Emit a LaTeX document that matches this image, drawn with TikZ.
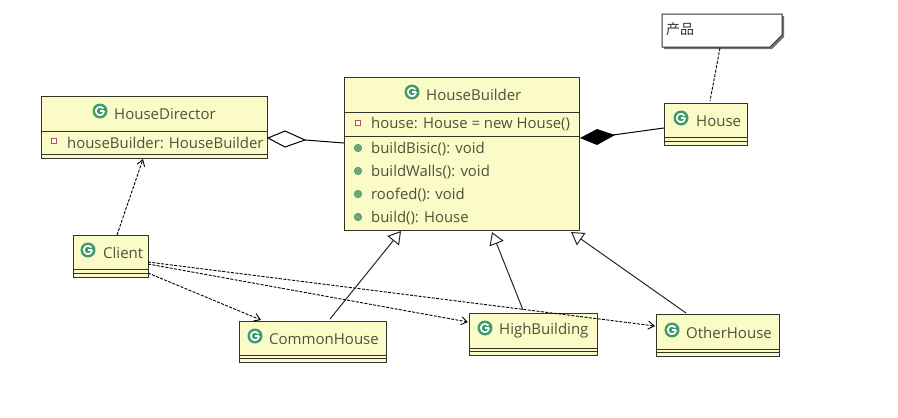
\documentclass[tikz,border=0pt]{standalone}
\usepackage{fontspec}
\setmainfont{Open Sans}
\newfontfamily\cjkfont{Noto Sans CJK SC}
\usetikzlibrary{calc,arrows.meta}
\definecolor{umlfill}{HTML}{FBFBC8}
\definecolor{umlline}{HTML}{33332A}
\definecolor{umltext}{HTML}{50503C}
\definecolor{icongreen}{HTML}{3F9A6E}
\definecolor{pubgreen}{HTML}{6AA878}
\definecolor{privred}{HTML}{C0504D}
\tikzset{
  umlbox/.style={draw=umlline,fill=umlfill,line width=.95pt,anchor=north west,inner sep=0pt,outer sep=0pt},
  sepline/.style={draw=umlline,line width=.95pt},
  umllabel/.style={text=umltext,font=\fontsize{14.9}{16}\selectfont,inner sep=0pt,anchor=west,yshift=-1pt},
  titlelabel/.style={text=umltext,font=\fontsize{15}{16}\selectfont,inner sep=0pt,anchor=west,yshift=-1pt},
  dep/.style={draw=black,line width=.9pt,dash pattern=on 3pt off 1.4pt,-{Straight Barb[length=6pt,width=8pt,line width=.9pt]}},
  gen/.style={draw=black!85,line width=1pt,-{Triangle[open,fill=white,length=12.5pt,width=15pt,line width=1pt]}},
  assoc/.style={draw=black,line width=1pt},
  notelink/.style={draw=black,line width=.9pt,dash pattern=on 3pt off 1.4pt},
}
\newcommand{\gicon}[2]{%
  \fill[icongreen] (#1,#2) circle (7.5pt);
  \draw[white,line width=1.6pt] ($(#1,#2)+(3.5pt,2.45pt)$) arc[start angle=35,end angle=360,radius=4.27pt];
  \draw[white,line width=1.6pt] (#1,#2) -- ++(4.27pt,0pt);
}
\newcommand{\pubicon}[2]{\fill[pubgreen,draw=icongreen,line width=.5pt] (#1,#2) circle (3.8pt);}
\newcommand{\privicon}[2]{\draw[privred,fill=white,line width=1pt] ($(#1,#2)+(-2.5pt,-2.5pt)$) rectangle ($(#1,#2)+(2.5pt,2.5pt)$);}
\begin{document}
\begin{tikzpicture}[x=1pt,y=-1pt]
\useasboundingbox[fill=white] (0,0) rectangle (898,418);

% HouseDirector
\node[umlbox,minimum width=226pt,minimum height=62pt] (hd) at (41,96) {};
\draw[sepline] ($(hd.north west)+(0,35)$) -- ($(hd.north east)+(0,35)$);
\draw[sepline] ($(hd.south west)+(0,-3.5)$) -- ($(hd.south east)+(0,-3.5)$);
\gicon{100}{111}
\node[titlelabel] (hdt) at (114,113) {HouseDirector};
\privicon{54}{141}
\node[umllabel] (hdf) at (67,142) {houseBuilder: HouseBuilder};

% HouseBuilder
\node[umlbox,minimum width=235pt,minimum height=153pt] (hb) at (344,77) {};
\draw[sepline] ($(hb.north west)+(0,35)$) -- ($(hb.north east)+(0,35)$);
\draw[sepline] ($(hb.north west)+(0,59)$) -- ($(hb.north east)+(0,59)$);
\gicon{412}{92}
\node[titlelabel] (hbt) at (426,94) {HouseBuilder};
\privicon{358}{123}
\node[umllabel] (hbf) at (371,123) {house: House = new House()};
\pubicon{358}{148}
\node[umllabel] (hbm1) at (371,148) {buildBisic(): void};
\pubicon{358}{171}
\node[umllabel] (hbm2) at (371,171) {buildWalls(): void};
\pubicon{358}{194}
\node[umllabel] (hbm3) at (371,194) {roofed(): void};
\pubicon{358}{217}
\node[umllabel] (hbm4) at (371,217) {build(): House};

% House
\node[umlbox,minimum width=83pt,minimum height=42pt] (ho) at (664,103) {};
\draw[sepline] ($(ho.south west)+(0,-8)$) -- ($(ho.south east)+(0,-8)$);
\draw[sepline] ($(ho.south west)+(0,-4)$) -- ($(ho.south east)+(0,-4)$);
\gicon{681}{118}
\node[titlelabel] (hot) at (696,120) {House};

% Note
\fill[black!55] (664,16) -- (784,16) -- (784,37) -- (772,49) -- (664,49) -- cycle;
\draw[draw=umlline,fill=white,line width=1pt] (662,14) -- (782,14) -- (782,35) -- (770,47) -- (662,47) -- cycle;
\node[text=black!80,font=\cjkfont\fontsize{14}{16}\selectfont,inner sep=0pt,anchor=west] (nt) at (666,29) {产品};
\coordinate (notebottom) at (720,48);

% Client
\node[umlbox,minimum width=75pt,minimum height=42pt] (cl) at (73,235) {};
\draw[sepline] ($(cl.south west)+(0,-8)$) -- ($(cl.south east)+(0,-8)$);
\draw[sepline] ($(cl.south west)+(0,-4)$) -- ($(cl.south east)+(0,-4)$);
\gicon{88}{250}
\node[titlelabel] (clt) at (103,252) {Client};

% CommonHouse
\node[umlbox,minimum width=147pt,minimum height=41pt] (ch) at (239,321) {};
\draw[sepline] ($(ch.south west)+(0,-7)$) -- ($(ch.south east)+(0,-7)$);
\draw[sepline] ($(ch.south west)+(0,-3.5)$) -- ($(ch.south east)+(0,-3.5)$);
\gicon{255}{336}
\node[titlelabel] (cht) at (269,338) {CommonHouse};

% HighBuilding
\node[umlbox,minimum width=128pt,minimum height=42pt] (hi) at (469,313) {};
\draw[sepline] ($(hi.south west)+(0,-7)$) -- ($(hi.south east)+(0,-7)$);
\draw[sepline] ($(hi.south west)+(0,-3.5)$) -- ($(hi.south east)+(0,-3.5)$);
\gicon{485}{328}
\node[titlelabel] (hit) at (499,330) {HighBuilding};

% OtherHouse
\node[umlbox,minimum width=123pt,minimum height=42pt] (ot) at (656,314) {};
\draw[sepline] ($(ot.south west)+(0,-7)$) -- ($(ot.south east)+(0,-7)$);
\draw[sepline] ($(ot.south west)+(0,-3.5)$) -- ($(ot.south east)+(0,-3.5)$);
\gicon{672}{330}
\node[titlelabel] (ott) at (686,332) {OtherHouse};

% Connectors
\draw[notelink] (notebottom) -- ($(ho.north west)+(46,-2)$);
\draw[assoc] (hb.west |- 0,143) -- (305,140);
\draw[assoc,fill=white] (268,138) -- (285,131) -- (305,140) -- (285,147) -- cycle;
\draw[assoc] (ho.west |- 0,128) -- (613,135);
\fill[black] (580,138) -- (597,129) -- (615,135) -- (597,145) -- cycle;
\draw[dep] ($(cl.north west)+(44,0)$) -- ($(hd.south west)+(102,1)$);
\draw[dep] ($(cl.east)+(0,17)$) -- ($(ch.north west)+(22,-1)$);
\draw[dep] ($(cl.east)+(0,8)$) -- ($(hi.north west)+(-1,9)$);
\draw[dep] ($(cl.east)+(0,6)$) -- ($(ot.north west)+(-1,12)$);
\draw[gen] ($(ch.north west)+(91,-2)$) -- ($(hb.south west)+(57,1)$);
\draw[gen] ($(hi.north west)+(54,-3)$) -- ($(hb.south west)+(148,2)$);
\draw[gen] ($(ot.north west)+(30,-1)$) -- ($(hb.south west)+(227,2)$);
\end{tikzpicture}
\end{document}
